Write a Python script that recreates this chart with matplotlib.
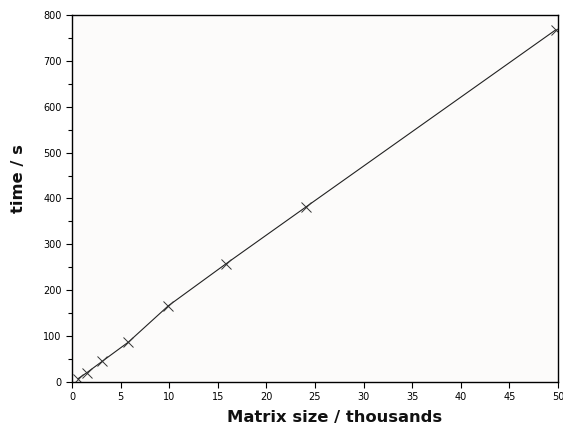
import numpy as np
import matplotlib.pyplot as plt
from matplotlib.ticker import MultipleLocator

# matrix size (thousands) vs run time (s)
size_k = [0.6, 1.5, 3.1, 5.8, 9.9, 15.8, 24.1, 49.8]
time_s = [7, 20, 45, 87, 166, 257, 382, 768]

fig = plt.figure(figsize=(5.63, 4.28), dpi=100)
ax = fig.add_axes([0.128, 0.1075, 0.863, 0.8575])
ax.set_facecolor('#fcfbfa')

ax.plot(size_k, time_s, color='#222222', linewidth=0.8,
        marker='x', markersize=7, markeredgecolor='#333333', markeredgewidth=0.7)

ax.set_xlim(0, 50)
ax.set_ylim(0, 800)
ax.xaxis.set_major_locator(MultipleLocator(5))
ax.yaxis.set_major_locator(MultipleLocator(100))
ax.yaxis.set_minor_locator(MultipleLocator(50))
ax.tick_params(direction='out', labelsize=7, length=4, width=0.8)
ax.tick_params(which='minor', direction='out', length=3, width=0.8)
ax.tick_params(top=False, right=False)

for s in ax.spines.values():
    s.set_linewidth(1.0)

ax.set_xlabel('Matrix size / thousands', fontsize=11.8, fontweight='bold',
              color='#111111', va='center')
ax.set_ylabel('time / s', fontsize=11.8, fontweight='bold',
              color='#111111', va='center')
ax.xaxis.set_label_coords(0.541, -0.098)
ax.yaxis.set_label_coords(-0.111, 0.553)

fig.savefig('out.png', dpi=100)
